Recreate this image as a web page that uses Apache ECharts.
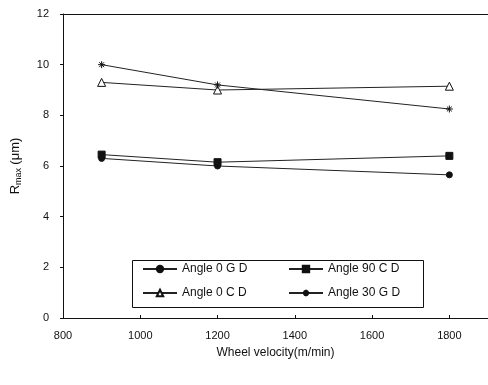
<!DOCTYPE html>
<html lang="en">
<head>
<meta charset="UTF-8">
<title>Rmax vs wheel velocity</title>
<script src="https://cdn.jsdelivr.net/npm/echarts@6/dist/echarts.min.js"></script>
</head>
<body style="margin:0; background:#fff;">
<div id="chart" style="width:488px; height:385px;"></div>
<script>
    var velocity = [900, 1200, 1800];
    var angle0GD = [6.3, 6.0, 5.65];
    var angle90CD = [6.45, 6.15, 6.4];
    var angle0CD = [9.3, 9.0, 9.15];
    var angle30GD = [10.0, 9.2, 8.25];
    var legendLeftCol = ['Angle 0 G D', 'Angle 0 C D'];
    var legendRightCol = ['Angle 90 C D', 'Angle 30 G D'];

    function pairs(vals) {
        return velocity.map(function (v, i) { return [v, vals[i]]; });
    }

    var starPath = 'path://M5,0L5,10M0,5L10,5M1.5,1.5L8.5,8.5M8.5,1.5L1.5,8.5';

    function line(name, vals, symbol, size, fill) {
        return {
            name: name,
            type: 'line',
            data: pairs(vals),
            symbol: symbol,
            symbolSize: size,
            lineStyle: {color: '#222', width: 1},
            itemStyle: {color: fill, borderColor: '#111', borderWidth: 1},
            emphasis: {disabled: true}
        };
    }

    function legendCol(names, left) {
        return {
            data: names,
            orient: 'vertical',
            left: left,
            top: 263,
            itemWidth: 34,
            itemHeight: 8,
            itemGap: 12,
            padding: 0,
            textStyle: {fontSize: 12, color: '#111', fontFamily: 'Liberation Sans, Arial'}
        };
    }

    var myChart = echarts.init(document.getElementById('chart'));
    myChart.setOption({
        animation: false,
        textStyle: {fontFamily: 'Liberation Sans, Arial', color: '#111'},
        grid: {left: 63, right: 0, top: 14, bottom: 67},
        legend: [legendCol(legendLeftCol, 142), legendCol(legendRightCol, 288)],
        graphic: [{
            type: 'rect',
            left: 130,
            top: 258,
            shape: {width: 291, height: 47},
            style: {fill: 'none', stroke: '#111', lineWidth: 1},
            silent: true
        }],
        xAxis: [{
            type: 'value',
            min: 800,
            max: 1900,
            interval: 200,
            name: 'Wheel velocity(m/min)',
            nameLocation: 'middle',
            nameGap: 29,
            nameTextStyle: {fontSize: 12, color: '#111'},
            axisLine: {show: true, lineStyle: {color: '#111'}},
            axisTick: {show: true, inside: true, length: 3, lineStyle: {color: '#111'}},
            axisLabel: {fontSize: 11, color: '#111', margin: 12, showMaxLabel: false, formatter: function (v) { return String(v); }},
            splitLine: {show: false}
        }, {
            type: 'value',
            position: 'top',
            min: 800,
            max: 1900,
            axisLine: {show: true, lineStyle: {color: '#111'}},
            axisTick: {show: false},
            axisLabel: {show: false},
            splitLine: {show: false}
        }],
        yAxis: {
            type: 'value',
            min: 0,
            max: 12,
            interval: 2,
            name: '{r|R}{s|max} {r|(μm)}',
            nameLocation: 'middle',
            nameGap: 40,
            nameTextStyle: {
                rich: {
                    r: {fontSize: 13, color: '#111'},
                    s: {fontSize: 9, color: '#111', verticalAlign: 'bottom', padding: [6, 0, 0, 0]}
                }
            },
            axisLine: {show: true, lineStyle: {color: '#111'}},
            axisTick: {show: true, length: 3, lineStyle: {color: '#111'}},
            axisLabel: {fontSize: 11, color: '#111', margin: 14},
            splitLine: {show: false}
        },
        series: [
            line('Angle 0 G D', angle0GD, 'circle', 6, '#111'),
            line('Angle 90 C D', angle90CD, 'rect', 7, '#111'),
            line('Angle 0 C D', angle0CD, 'triangle', 8, '#fff'),
            line('Angle 30 G D', angle30GD, starPath, 7, 'none')
        ]
    });
</script>
</body>
</html>
